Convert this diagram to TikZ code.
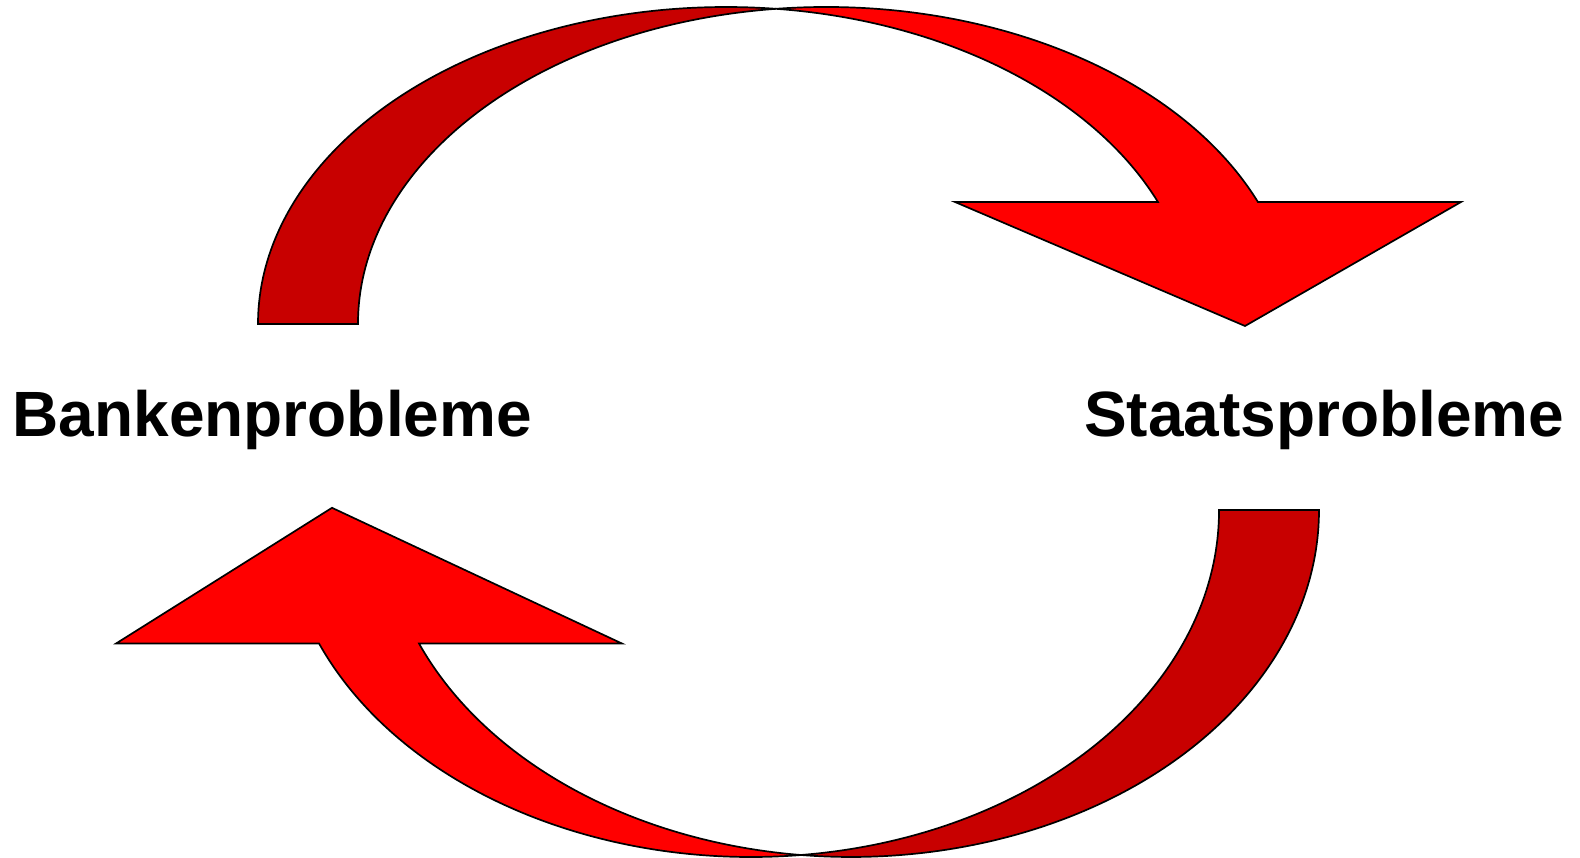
\documentclass[tikz,border=0pt]{standalone}
\usepackage{fontspec}
\setmainfont{Liberation Sans}
\definecolor{arrowlight}{RGB}{255,0,0}
\definecolor{arrowdark}{RGB}{200,0,0}
% one curved arrow: outer ellipse centred (726,324), inner one centred (826,324)
\newcommand\mycurvedarrow{%
  \fill[darkband] (258,324) arc[ell, start angle=180, end angle=276.133]
     arc[ell, start angle=263.867, end angle=180] -- cycle;
  \fill[lightband] (776,8.81) arc[ell, start angle=263.867, end angle=337.36]
     -- (1461,202) -- (1245,326) -- (955,202) -- (1157.94,201.97)
     arc[ell, start angle=337.36, end angle=276.133] -- cycle;
}
\begin{document}
\begin{tikzpicture}[x=1pt,y=-1pt,
  darkband/.style={fill=arrowdark, draw=black, line width=1.7pt, line join=miter},
  lightband/.style={fill=arrowlight, draw=black, line width=1.7pt, line join=miter},
  ell/.style={x radius=468, y radius=317},
  lbl/.style={inner sep=0pt, anchor=base west, font=\bfseries\fontsize{64}{77}\selectfont}]
\useasboundingbox (0,0) rectangle (1580,858);
\begin{scope}
  \mycurvedarrow
\end{scope}
\begin{scope}[shift={(1577,864.65)}, xscale=-1, yscale=-1.0946]
  \mycurvedarrow
\end{scope}
\node[lbl] (banken) at (12.5,436) {Bankenprobleme};
\node[lbl] (staat) at (1084,436) {Staatsprobleme};
\end{tikzpicture}
\end{document}
